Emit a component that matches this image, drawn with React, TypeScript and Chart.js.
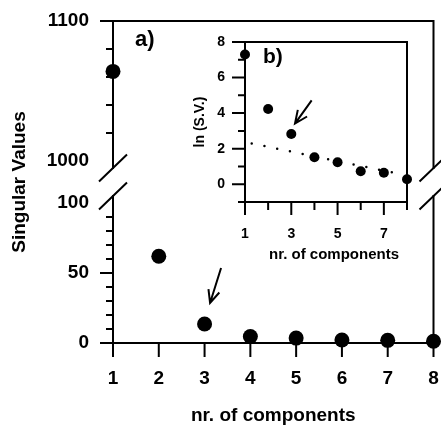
import React, { useEffect, useRef } from 'react';
import { Chart, registerables } from 'chart.js';

Chart.register(...registerables);

// ---------- data ----------
const components = [1, 2, 3, 4, 5, 6, 7, 8];
const singularValues = [1064, 62, 13.6, 4.6, 3.5, 2.1, 1.9, 1.3];
const lnSingularValues = [7.3, 4.23, 2.82, 1.52, 1.24, 0.73, 0.65, 0.28];

const upperTickValues = [1000, 1020, 1040, 1060, 1080, 1100];
const upperTickLabels = [1000, 1100];
const lowerTickValues = [0, 10, 20, 30, 40, 50, 60, 70, 80, 90, 100];
const lowerTickLabels = [0, 50, 100];
const xTickValues = [1, 2, 3, 4, 5, 6, 7, 8];
const breakTickValues = [1000, 100];

const insetXTickValues = [1, 2, 3, 4, 5, 6, 7, 8];
const insetXTickLabels = [1, 3, 5, 7];
const insetYTickValues = [-1, 0, 1, 2, 3, 4, 5, 6, 7, 8];
const insetYTickLabels = [0, 2, 4, 6, 8];

const trendX = [1.29, 7.62];
const trendY = [2.29, 0.6];

const mainArrowX = [3.36, 3.12]; // tail, tip
const mainArrowY = [53.6, 28.6];
const insetArrowX = [3.88, 3.16];
const insetArrowY = [4.72, 3.41];

// axis break settings
const THRESHOLD = 1000;
const UPPER_MIN = 970;
const UPPER_MAX = 1100;
const LOWER_MIN = 0;
const LOWER_MAX = 100;
const UPPER_AXIS_END = 995;
const LOWER_AXIS_START = 105;

const FONT = '"Liberation Sans", Arial, Helvetica, sans-serif';

function drawArrow(ctx: any, x1: number, y1: number, x2: number, y2: number, head = 14, spread = Math.PI / 7.5) {
  const ang = Math.atan2(y1 - y2, x1 - x2);
  ctx.beginPath();
  ctx.moveTo(x1, y1);
  ctx.lineTo(x2, y2);
  ctx.moveTo(x2 + head * Math.cos(ang - spread), y2 + head * Math.sin(ang - spread));
  ctx.lineTo(x2, y2);
  ctx.lineTo(x2 + head * Math.cos(ang + spread), y2 + head * Math.sin(ang + spread));
  ctx.stroke();
}

const mainDecor = {
  id: 'mainDecor',
  beforeDatasetsDraw(chart: any) {
    const { ctx, chartArea: a, scales } = chart;
    const x = scales.x, yU = scales.yUp, yL = scales.yLow;
    const top = yU.getPixelForValue(UPPER_MAX);
    const upEnd = yU.getPixelForValue(UPPER_AXIS_END);
    const lowStart = yL.getPixelForValue(LOWER_AXIS_START);
    const bottom = yL.getPixelForValue(LOWER_MIN);
    ctx.save();
    ctx.strokeStyle = '#000';
    ctx.lineWidth = 2;
    ctx.lineCap = 'square';
    ctx.lineJoin = 'miter';
    ctx.beginPath();
    ctx.moveTo(a.left, upEnd);
    ctx.lineTo(a.left, top);
    ctx.lineTo(a.right, top);
    ctx.lineTo(a.right, upEnd);
    ctx.moveTo(a.left, lowStart);
    ctx.lineTo(a.left, bottom);
    ctx.lineTo(a.right, bottom);
    ctx.lineTo(a.right, lowStart);
    ctx.stroke();
    ctx.lineCap = 'butt';
    ctx.beginPath();
    for (const px of [a.left, a.right]) {
      for (const py of [upEnd, lowStart]) {
        ctx.moveTo(px - 14, py + 13.5);
        ctx.lineTo(px + 14, py - 13.5);
      }
    }
    for (const sc of [yU, yL]) {
      for (const t of sc.ticks) {
        if (breakTickValues.includes(t.value)) continue;
        const py = sc.getPixelForValue(t.value);
        const len = t.label ? 13 : 7;
        ctx.moveTo(a.left - len, py);
        ctx.lineTo(a.left, py);
      }
    }
    for (const t of x.ticks) {
      const px = x.getPixelForValue(t.value);
      ctx.moveTo(px, bottom);
      ctx.lineTo(px, bottom + 14);
    }
    ctx.stroke();
    ctx.restore();
  },
  afterDatasetsDraw(chart: any) {
    const { ctx, chartArea: a, scales } = chart;
    const x = scales.x, yL = scales.yLow;
    ctx.save();
    ctx.fillStyle = '#000';
    ctx.font = `bold 22px ${FONT}`;
    ctx.textAlign = 'left';
    ctx.textBaseline = 'middle';
    ctx.fillText('a)', a.left + 22, a.top + 19);
    ctx.strokeStyle = '#000';
    ctx.lineWidth = 2;
    drawArrow(
      ctx,
      x.getPixelForValue(mainArrowX[0]), yL.getPixelForValue(mainArrowY[0]),
      x.getPixelForValue(mainArrowX[1]), yL.getPixelForValue(mainArrowY[1])
    );
    ctx.restore();
  },
};

const insetDecor = {
  id: 'insetDecor',
  beforeDatasetsDraw(chart: any) {
    const { ctx, chartArea: a, scales } = chart;
    const x = scales.x, y = scales.y;
    ctx.save();
    ctx.strokeStyle = '#000';
    ctx.lineWidth = 2;
    ctx.strokeRect(a.left, a.top, a.right - a.left, a.bottom - a.top);
    ctx.beginPath();
    for (const t of y.ticks) {
      const py = y.getPixelForValue(t.value);
      const len = t.label ? 13 : 7;
      ctx.moveTo(a.left - len, py);
      ctx.lineTo(a.left, py);
    }
    for (const t of x.ticks) {
      const px = x.getPixelForValue(t.value);
      const len = t.label ? 13 : 8;
      ctx.moveTo(px, a.bottom);
      ctx.lineTo(px, a.bottom + len);
    }
    ctx.stroke();
    ctx.restore();
  },
  afterDatasetsDraw(chart: any) {
    const { ctx, chartArea: a, scales } = chart;
    const x = scales.x, y = scales.y;
    ctx.save();
    ctx.fillStyle = '#000';
    ctx.font = `bold 21px ${FONT}`;
    ctx.textAlign = 'left';
    ctx.textBaseline = 'middle';
    ctx.fillText('b)', a.left + 18, a.top + 15);
    ctx.font = `bold 15px ${FONT}`;
    ctx.textAlign = 'center';
    ctx.fillText('nr. of components', (a.left + a.right) / 2 + 8, a.bottom + 53);
    ctx.strokeStyle = '#000';
    ctx.lineWidth = 2;
    drawArrow(
      ctx,
      x.getPixelForValue(insetArrowX[0]), y.getPixelForValue(insetArrowY[0]),
      x.getPixelForValue(insetArrowX[1]), y.getPixelForValue(insetArrowY[1])
    );
    ctx.restore();
  },
};

function mainConfig(): any {
  const pts = components.map((c, i) => ({ x: c, y: singularValues[i] }));
  const upper = pts.filter((p) => p.y >= THRESHOLD);
  const lower = pts.filter((p) => p.y <= LOWER_MAX);
  const tickFont = { family: FONT, size: 19, weight: 'bold' };
  return {
    type: 'scatter',
    data: {
      datasets: [
        { data: upper, yAxisID: 'yUp', xAxisID: 'x', pointRadius: 7.5, backgroundColor: '#000', borderWidth: 0, clip: false },
        { data: lower, yAxisID: 'yLow', xAxisID: 'x', pointRadius: 7.5, backgroundColor: '#000', borderWidth: 0, clip: false },
      ],
    },
    options: {
      animation: false,
      responsive: false,
      events: [],
      layout: { padding: { left: 0, right: 4, top: 21, bottom: 0 } },
      plugins: {
        legend: { display: false },
        tooltip: { enabled: false },
        title: {
          display: true,
          text: 'Singular Values',
          position: 'left',
          fullSize: false,
          color: '#000',
          font: { family: FONT, size: 19, weight: 'bold' },
          padding: { top: 8.6, bottom: 0 },
        },
      },
      scales: {
        x: {
          type: 'linear',
          position: 'bottom',
          min: 1,
          max: 8,
          afterBuildTicks: (s: any) => { s.ticks = xTickValues.map((v) => ({ value: v })); },
          ticks: { color: '#000', font: tickFont, padding: 24.6, autoSkip: false, maxRotation: 0 },
          grid: { display: false, drawTicks: false },
          border: { display: false },
          title: {
            display: true,
            text: 'nr. of components',
            color: '#000',
            font: { family: FONT, size: 19, weight: 'bold' },
            padding: { top: 0, bottom: 0 },
          },
          afterFit: (s: any) => { s.height = 84; s.paddingLeft = 0; s.paddingRight = 0; s.paddingTop = 0; s.paddingBottom = 0; },
        },
        yUp: {
          type: 'linear',
          position: 'left',
          stack: 'v',
          stackWeight: UPPER_MAX - UPPER_MIN,
          weight: 2,
          min: UPPER_MIN,
          max: UPPER_MAX,
          afterBuildTicks: (s: any) => { s.ticks = upperTickValues.map((v) => ({ value: v })); },
          ticks: {
            color: '#000', font: tickFont, padding: 24, autoSkip: false,
            callback: (v: number) => (upperTickLabels.includes(v) ? String(v) : ''),
          },
          grid: { display: false, drawTicks: false },
          border: { display: false },
          afterFit: (s: any) => { s.width = 81.6; s.paddingTop = 0; s.paddingBottom = 0; },
        },
        yLow: {
          type: 'linear',
          position: 'left',
          stack: 'v',
          stackWeight: LOWER_MAX - LOWER_MIN,
          weight: 1,
          min: LOWER_MIN,
          max: LOWER_MAX,
          afterBuildTicks: (s: any) => { s.ticks = lowerTickValues.map((v) => ({ value: v })); },
          ticks: {
            color: '#000', font: tickFont, padding: 24, autoSkip: false,
            callback: (v: number) => (lowerTickLabels.includes(v) ? String(v) : ''),
          },
          grid: { display: false, drawTicks: false },
          border: { display: false },
          afterFit: (s: any) => { s.width = 81.6; s.paddingTop = 0; s.paddingBottom = 0; },
        },
      },
    },
    plugins: [mainDecor],
  };
}

function insetConfig(): any {
  const pts = components.map((c, i) => ({ x: c, y: lnSingularValues[i] }));
  const trend = trendX.map((v, i) => ({ x: v, y: trendY[i] }));
  const tickFont = { family: FONT, size: 14, weight: 'bold' };
  return {
    type: 'scatter',
    data: {
      datasets: [
        { data: pts, pointRadius: 5, backgroundColor: '#000', borderWidth: 0, clip: false },
        {
          type: 'line', data: trend, borderColor: '#000', borderWidth: 2.5, borderDash: [0, 13],
          borderCapStyle: 'round', pointRadius: 0, fill: false, clip: false,
        },
      ],
    },
    options: {
      animation: false,
      responsive: false,
      events: [],
      layout: { padding: { left: 0, right: 18, top: 14, bottom: 0 } },
      plugins: { legend: { display: false }, tooltip: { enabled: false } },
      scales: {
        x: {
          type: 'linear',
          position: 'bottom',
          min: 1,
          max: 8,
          afterBuildTicks: (s: any) => { s.ticks = insetXTickValues.map((v) => ({ value: v })); },
          ticks: {
            color: '#000', font: tickFont, padding: 23.6, autoSkip: false, maxRotation: 0,
            callback: (v: number) => (insetXTickLabels.includes(v) ? String(v) : ''),
          },
          grid: { display: false, drawTicks: false },
          border: { display: false },
          afterFit: (s: any) => { s.height = 66; s.paddingLeft = 0; s.paddingRight = 0; s.paddingTop = 0; s.paddingBottom = 0; },
        },
        y: {
          type: 'linear',
          position: 'left',
          min: -1,
          max: 8,
          afterBuildTicks: (s: any) => { s.ticks = insetYTickValues.map((v) => ({ value: v })); },
          ticks: {
            color: '#000', font: tickFont, padding: 20, autoSkip: false,
            callback: (v: number) => (insetYTickLabels.includes(v) ? String(v) : ''),
          },
          grid: { display: false, drawTicks: false },
          border: { display: false },
          title: {
            display: true,
            text: 'ln (S.V.)',
            color: '#000',
            font: { family: FONT, size: 14, weight: 'bold' },
            padding: { top: 6.6, bottom: 0 },
          },
          afterFit: (s: any) => { s.width = 60; s.paddingTop = 0; s.paddingBottom = 0; },
        },
      },
    },
    plugins: [insetDecor],
  };
}

export default function App() {
  const mainRef = useRef<HTMLCanvasElement>(null);
  const insetRef = useRef<HTMLCanvasElement>(null);
  useEffect(() => {
    const main = new Chart(mainRef.current as HTMLCanvasElement, mainConfig());
    const inset = new Chart(insetRef.current as HTMLCanvasElement, insetConfig());
    return () => {
      main.destroy();
      inset.destroy();
    };
  }, []);
  return (
    <div style={{ position: 'absolute', left: 0, top: 0, width: 441, height: 427, background: '#fff', overflow: 'hidden' }}>
      <canvas ref={mainRef} width={441} height={427} style={{ position: 'absolute', left: 0, top: 0, width: 441, height: 427 }} />
      <canvas ref={insetRef} width={240} height={240} style={{ position: 'absolute', left: 185, top: 28, width: 240, height: 240 }} />
    </div>
  );
}
